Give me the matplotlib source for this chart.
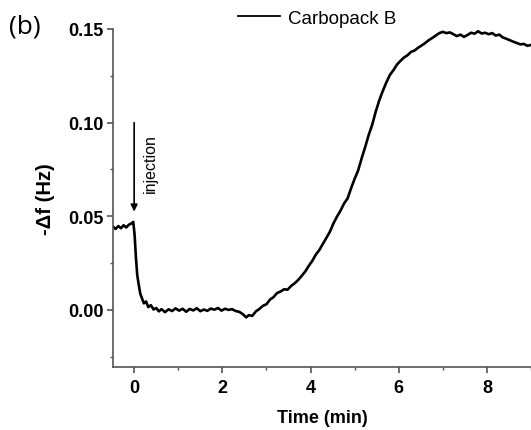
import matplotlib
matplotlib.use('Agg')
import matplotlib.pyplot as plt
from matplotlib.lines import Line2D
from matplotlib.ticker import MultipleLocator

plt.rcParams['font.family'] = ['Liberation Sans', 'DejaVu Sans']

# time (min) and -delta f (Hz)
time_min = [
    -0.48, -0.42, -0.36, -0.30, -0.24, -0.18, -0.12, -0.06, -0.02, 0.01,
    0.04, 0.07, 0.10, 0.14, 0.18, 0.22, 0.27, 0.32, 0.38, 0.44,
    0.50, 0.56, 0.62, 0.70, 0.78, 0.86, 0.94, 1.02, 1.10, 1.18,
    1.26, 1.34, 1.42, 1.50, 1.58, 1.66, 1.74, 1.82, 1.90, 1.98,
    2.06, 2.14, 2.22, 2.30, 2.38, 2.46, 2.54, 2.60, 2.68, 2.76,
    2.84, 2.92, 3.00, 3.08, 3.16, 3.24, 3.32, 3.40, 3.48, 3.56,
    3.64, 3.72, 3.80, 3.88, 3.96, 4.04, 4.12, 4.20, 4.28, 4.36,
    4.44, 4.52, 4.60, 4.68, 4.76, 4.84, 4.92, 5.00, 5.08, 5.16,
    5.24, 5.32, 5.40, 5.48, 5.56, 5.64, 5.72, 5.80, 5.88, 5.96,
    6.04, 6.12, 6.20, 6.28, 6.36, 6.44, 6.52, 6.60, 6.68, 6.76,
    6.84, 6.92, 7.00, 7.08, 7.16, 7.24, 7.32, 7.40, 7.48, 7.56,
    7.64, 7.72, 7.80, 7.88, 7.96, 8.04, 8.12, 8.20, 8.28, 8.36,
    8.44, 8.52, 8.60, 8.68, 8.76, 8.84, 8.92, 9.00,
]
delta_f = [
    0.0445, 0.0432, 0.0448, 0.0436, 0.0452, 0.0440, 0.0455, 0.0462, 0.0470, 0.0400,
    0.0280, 0.0185, 0.0140, 0.0085, 0.0060, 0.0035, 0.0045, 0.0015, 0.0025, 0.0002,
    0.0010, -0.0008, 0.0004, -0.0012, 0.0003, -0.0006, 0.0008, -0.0004, 0.0006, -0.0010,
    0.0005, -0.0003, 0.0009, -0.0007, 0.0002, -0.0005, 0.0007, 0.0001, 0.0010, -0.0004,
    0.0006, 0.0000, 0.0004, -0.0006, -0.0010, -0.0022, -0.0040, -0.0028, -0.0032, -0.0008,
    0.0005, 0.0022, 0.0030, 0.0055, 0.0068, 0.0090, 0.0098, 0.0110, 0.0108, 0.0128,
    0.0142, 0.0160, 0.0182, 0.0205, 0.0235, 0.0262, 0.0295, 0.0320, 0.0352, 0.0385,
    0.0418, 0.0462, 0.0498, 0.0530, 0.0568, 0.0595, 0.0650, 0.0700, 0.0745, 0.0810,
    0.0870, 0.0935, 0.0990, 0.1060, 0.1120, 0.1170, 0.1215, 0.1255, 0.1280, 0.1310,
    0.1330, 0.1348, 0.1360, 0.1378, 0.1385, 0.1400, 0.1412, 0.1425, 0.1440, 0.1452,
    0.1465, 0.1478, 0.1485, 0.1478, 0.1482, 0.1472, 0.1462, 0.1470, 0.1458, 0.1468,
    0.1480, 0.1475, 0.1488, 0.1476, 0.1480, 0.1472, 0.1478, 0.1465, 0.1470, 0.1455,
    0.1448, 0.1440, 0.1432, 0.1425, 0.1418, 0.1420, 0.1410, 0.1415,
]
series_label = 'Carbopack B'

axis_grey = '#555555'

fig = plt.figure(figsize=(5.31, 4.31), dpi=100)
ax = fig.add_axes([113 / 531, 63 / 431, 418 / 531, 338 / 431])

ax.plot(time_min, delta_f, color='black', lw=1.9)

ax.set_xlim(-0.48, 9.0)
ax.set_ylim(-0.0305, 0.15)
ax.xaxis.set_major_locator(MultipleLocator(2))
ax.xaxis.set_minor_locator(MultipleLocator(1))
ax.yaxis.set_major_locator(MultipleLocator(0.05))
ax.yaxis.set_minor_locator(MultipleLocator(0.025))
ax.yaxis.set_major_formatter(plt.FormatStrFormatter('%.2f'))

for side in ('top', 'right'):
    ax.spines[side].set_visible(False)
for side in ('left', 'bottom'):
    ax.spines[side].set_color(axis_grey)
    ax.spines[side].set_linewidth(1.2)
ax.tick_params(which='major', direction='out', length=4, width=1.2, color=axis_grey,
               labelsize=13, pad=3)
ax.tick_params(which='minor', direction='out', length=2.5, width=1.0, color=axis_grey)
ax.tick_params(axis='x', which='major', pad=5)
for lab in ax.get_xticklabels() + ax.get_yticklabels():
    lab.set_fontweight('bold')

ax.set_xlabel('Time (min)', fontsize=13, fontweight='bold', labelpad=9)
ax.set_ylabel('-\u0394f (Hz)', fontsize=14.5, fontweight='bold', labelpad=9)

# injection marker
ax.annotate('', xy=(0, 0.0525), xytext=(0, 0.100),
            arrowprops=dict(arrowstyle='-|>', color='black', lw=1.2,
                            mutation_scale=10, shrinkA=0, shrinkB=0))
ax.text(0.36, 0.0785, 'injection', rotation=90, ha='center', va='center', fontsize=11.5)

handle = Line2D([], [], color='black', lw=1.3)
fig.legend([handle], [series_label], loc='center left',
           bbox_to_anchor=(238 / 531, 1 - 19 / 431), frameon=False,
           fontsize=13.5, handlelength=2.25, handletextpad=0.4,
           borderpad=0, borderaxespad=0)

fig.text(9 / 531, 1 - 27 / 431, '(b)', fontsize=19, family=['Open Sans', 'DejaVu Sans'],
         ha='left', va='center')

fig.savefig('out.png', dpi=100)
